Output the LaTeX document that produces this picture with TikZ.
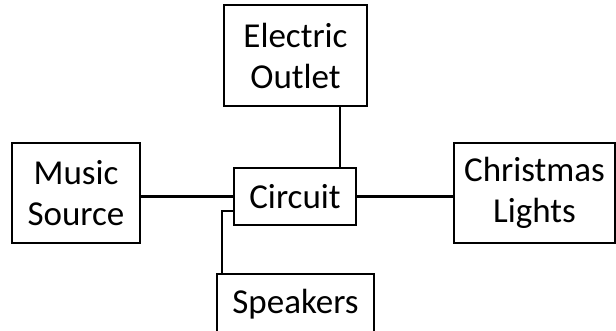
\documentclass[tikz,border=0pt]{standalone}
\usepackage{fontspec}
\setmainfont{Carlito}

\begin{document}
\begin{tikzpicture}[x=1pt, y=-1pt, line width=2.4pt,
    block/.style={draw, align=center, inner sep=0pt, font=\fontsize{35}{41}\selectfont}]
    \useasboundingbox (0,0) rectangle (616,331);

    \node[block, minimum width=143pt, minimum height=101pt] (outlet) at (295.5,55.5) {Electric\\Outlet};
    \node[block, minimum width=122pt, minimum height=57pt] (circuit) at (295,196.5) {Circuit};
    \node[block, minimum width=128pt, minimum height=100pt] (music) at (76,193) {Music\\Source};
    \node[block, minimum width=161pt, minimum height=100pt] (lights) at (534.5,193) {Christmas\\Lights};
    \node[block, minimum width=157pt, minimum height=60pt] (speakers) at (295.5,304) {Speakers};

    \draw (music.east |- circuit.west) -- (circuit.west);
    \draw (circuit.east) -- (lights.west |- circuit.east);
    \draw ([xshift=-17pt]circuit.north east) -- ([xshift=-17pt]circuit.north east |- outlet.south);
    \draw ([yshift=-14.5pt]circuit.west) -| ([xshift=6pt]speakers.north west);
\end{tikzpicture}
\end{document}
